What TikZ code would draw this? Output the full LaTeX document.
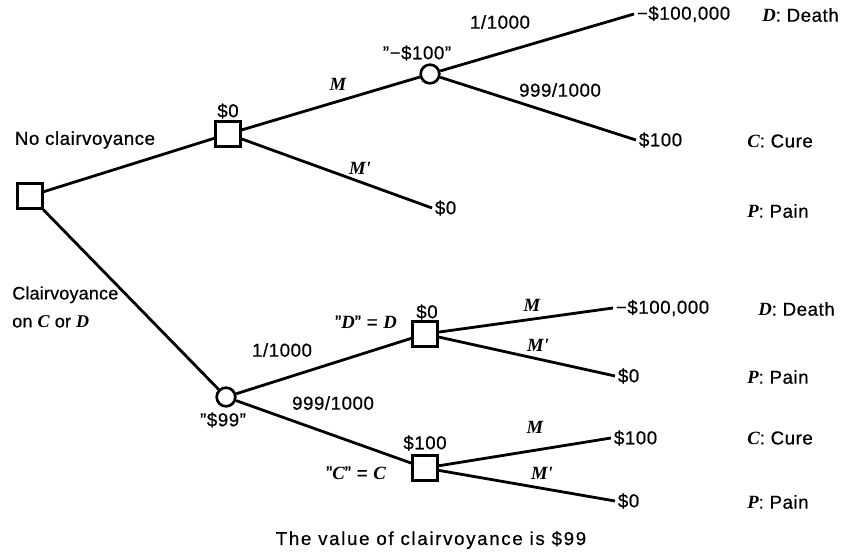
\documentclass[tikz,border=0pt]{standalone}
\usepackage{fontspec}
\setmainfont{Liberation Sans}[UprightFeatures={FakeBold=0.6}, LetterSpace=3]
\newfontfamily\tsbfam{Liberation Serif}
\newfontfamily\capfam{Liberation Sans}[FakeBold=0.6, LetterSpace=9]
\newfontfamily\clfam{Liberation Sans}[FakeBold=0.6, LetterSpace=1]
\newcommand\vv[1]{{\tsbfam\bfseries\itshape #1}}
\begin{document}
\begin{tikzpicture}[x=0.75pt,y=-0.75pt,
  every node/.style={font=\fontsize{14}{16}\selectfont, inner sep=0pt},
  dnode/.style={draw, line width=2pt, minimum size=18.5pt, fill=white, inner sep=0pt},
  cnode/.style={draw, circle, line width=2pt, minimum size=14pt, fill=white, inner sep=0pt},
  endl/.style={anchor=west, inner sep=2pt},
  outc/.style={anchor=west},
  br/.style={line width=2.1pt}]
\useasboundingbox (0,0) rectangle (846,555);

% decision and chance nodes
\node[dnode] (root) at (30,196) {};
\node[dnode] (s1) at (228,134) {};
\node[cnode] (c1) at (430,74) {};
\node[cnode] (c2) at (226,397) {};
\node[dnode] (sD) at (425,334) {};
\node[dnode] (sC) at (425,468) {};

% end values
\node[endl] (e1) at (634,14) {−\$100,000};
\node[endl] (e2) at (636,140) {\$100};
\node[endl] (e3) at (432,208) {\$0};
\node[endl] (e4) at (613,308) {−\$100,000};
\node[endl] (e5) at (615,376) {\$0};
\node[endl] (e6) at (611,438) {\$100};
\node[endl] (e7) at (615,501) {\$0};

% connectors
\draw[br] (root) -- (s1);
\draw[br] (root) -- (c2);
\draw[br] (s1) -- (c1);
\draw[br] (s1) -- (e3.west);
\draw[br] (c1) -- (e1.west);
\draw[br] (c1) -- (e2.west);
\draw[br] (c2) -- (sD);
\draw[br] (c2) -- (sC);
\draw[br] (sD) -- (e4.west);
\draw[br] (sD) -- (e5.west);
\draw[br] (sC) -- (e6.west);
\draw[br] (sC) -- (e7.west);

% labels
\node (lnc) at (85,140) {No clairvoyance};
\node[anchor=west, align=left, font=\clfam\fontsize{13.5}{21}\selectfont] (lcl) at (12,307) {Clairvoyance\\on \vv{C} or \vv{D}};
\node (v1) at (228,111) {\$0};
\node (v2) at (417,53) {''−\$100''};
\node (m1) at (338,84) {\vv{M}};
\node (m2) at (360,168) {\vv{M'}};
\node (p1) at (500,22) {1/1000};
\node (p2) at (560,90) {999/1000};
\node (p3) at (282,350) {1/1000};
\node (p4) at (333,403) {999/1000};
\node (v3) at (223,420) {''\$99''};
\node (qd) at (366,322) {''\vv{D}'' = \vv{D}};
\node (v4) at (427,312) {\$0};
\node (v5) at (425,443) {\$100};
\node (qc) at (356,473) {''\vv{C}'' = \vv{C}};
\node (m3) at (532,305) {\vv{M}};
\node (m4) at (538,345) {\vv{M'}};
\node (m5) at (535,427) {\vv{M}};
\node (m6) at (542,473) {\vv{M'}};

% outcomes
\node[outc] (o1) at (762,15) {\vv{D}: Death};
\node[outc] (o2) at (747,141) {\vv{C}: Cure};
\node[outc] (o3) at (747,211) {\vv{P}: Pain};
\node[outc] (o4) at (758,309) {\vv{D}: Death};
\node[outc] (o5) at (747,377) {\vv{P}: Pain};
\node[outc] (o6) at (747,438) {\vv{C}: Cure};
\node[outc] (o7) at (747,502) {\vv{P}: Pain};

\node[font=\capfam\fontsize{14}{16}\selectfont] (cap) at (431,540) {The value of clairvoyance is \$99};
\end{tikzpicture}
\end{document}
